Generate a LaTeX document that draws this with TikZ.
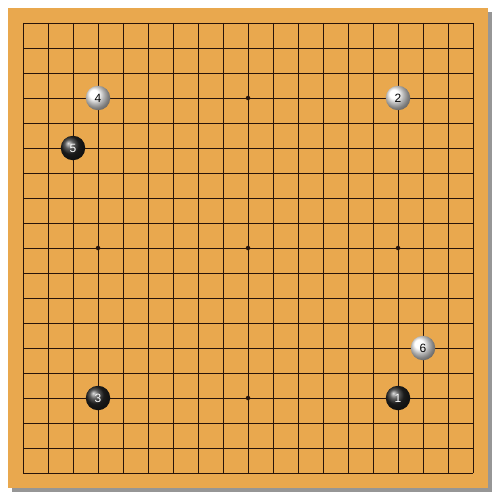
\documentclass[tikz,border=0pt]{standalone}
\usepackage{fontspec}
\setmainfont{Liberation Sans}
\usetikzlibrary{shadings}
\definecolor{wood}{RGB}{233,168,78}
\definecolor{gridc}{RGB}{40,20,10}
\definecolor{shad}{RGB}{150,150,150}
\tikzset{
  blackstone/.style={circle, minimum size=24.5pt, inner sep=0pt, shading=ball, ball color=black!85, text=white, font=\fontsize{12}{12}\selectfont},
  whitestone/.style={circle, minimum size=24.5pt, inner sep=0pt, shading=ball, ball color=white, text=black, font=\fontsize{12}{12}\selectfont},
  gridline/.style={draw=gridc, line width=0.9pt},
  star/.style={circle, fill=gridc, minimum size=4.5pt, inner sep=0pt}
}
\begin{document}
\begin{tikzpicture}[x=1pt,y=-1pt]
\useasboundingbox (0,0) rectangle (500,500);
\fill[white] (0,0) rectangle (500,500);
\fill[shad] (12,12) rectangle (492,492);
\fill[wood] (8,8) rectangle (488,488);
\foreach \i in {0,...,18}{
  \draw[gridline] (23+25*\i,23) -- (23+25*\i,473);
  \draw[gridline] (23,23+25*\i) -- (473,23+25*\i);
}
\foreach \a in {3,9,15}{
  \foreach \b in {3,9,15}{
    \node[star] (s\a\b) at (23+25*\a,23+25*\b) {};
  }
}
\node[blackstone] (m1) at (398,398) {1};
\node[whitestone] (m2) at (398,98) {2};
\node[blackstone] (m3) at (98,398) {3};
\node[whitestone] (m4) at (98,98) {4};
\node[blackstone] (m5) at (73,148) {5};
\node[whitestone] (m6) at (423,348) {6};
\end{tikzpicture}
\end{document}
